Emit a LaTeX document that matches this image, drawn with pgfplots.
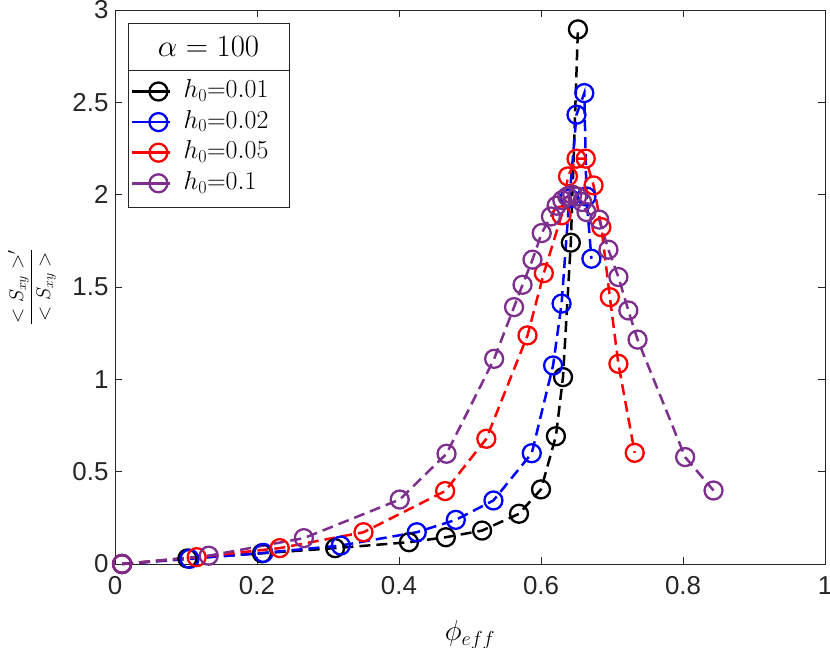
\RequirePackage{fix-cm}
\documentclass[border=0pt]{standalone}
\usepackage{fontspec}
\setmainfont{Liberation Sans}
\usepackage{pgfplots}
\pgfplotsset{compat=1.18}
\definecolor{mpurple}{rgb}{0.494,0.184,0.556}
\definecolor{axgray}{rgb}{0.15,0.15,0.15}
\begin{document}
\begin{tikzpicture}
\path[use as bounding box] (-115bp,-84bp) rectangle (715bp,564bp);
\begin{axis}[
  at={(0,0)}, anchor=south west,
  width=710bp, height=554bp, scale only axis,
  xmin=0, xmax=1, ymin=0, ymax=3,
  xtick={0,0.2,0.4,0.6,0.8,1},
  ytick={0,0.5,1,1.5,2,2.5,3},
  xticklabels={0,0.2,0.4,0.6,0.8,1},
  yticklabels={0,0.5,1,1.5,2,2.5,3},
  tick align=inside,
  major tick length=7bp,
  axis line style={axgray, line width=0.8bp},
  every tick/.style={axgray, line width=0.8bp},
  tick label style={font=\fontsize{26}{31}\selectfont, text=axgray},
  xticklabel style={yshift=-9bp},
  yticklabel style={xshift=-3bp},
  clip=false,
  xlabel={$\phi_{eff}$},
  xlabel style={at={(axis description cs:0.5,-0.128)}, anchor=center, font=\fontsize{29}{35}\selectfont},
  ylabel={$\displaystyle\frac{<S_{xy}>^{\prime}}{<S_{xy}>}$},
  ylabel style={at={(axis description cs:-0.1169,0.5)}, anchor=center, rotate=0, font=\fontsize{20}{24}\selectfont},
  every axis plot/.append style={dash pattern=on 11bp off 6bp, line width=2.5bp, mark=o, mark size=9bp, mark options={solid, line width=2.3bp}},
  legend style={at={(axis description cs:0.0183,0.8917)}, anchor=north west, draw=none, fill=none,
    font=\fontsize{26}{31}\selectfont, cells={anchor=west}, inner xsep=3bp, inner ysep=6bp,
    column sep=10bp,
    nodes={text height=17bp, text depth=5bp, inner ysep=4.3bp}},
  legend image code/.code={%
    \draw[mark repeat=2, mark phase=2, solid, #1] plot coordinates {(0bp,0bp) (26bp,0bp) (38bp,0bp)};},
]
\draw[axgray, line width=0.8bp, fill=white] (axis cs:0.0183,1.931) rectangle (axis cs:0.2451,2.928);
\draw[axgray, line width=0.8bp] (axis cs:0.0183,2.673) -- (axis cs:0.2451,2.673);
\node[font=\fontsize{31}{37}\selectfont] at (axis cs:0.1317,2.8005) {$\alpha = 100$};

\addplot[black] coordinates {
(0.01,0) (0.102,0.03) (0.207,0.058) (0.310,0.086) (0.414,0.118) (0.466,0.145)
(0.517,0.181) (0.569,0.272) (0.600,0.404) (0.621,0.692) (0.631,1.012)
(0.642,1.74) (0.652,2.895)};
\addlegendentry{$h_0{=}0.01$}

\addplot[blue] coordinates {
(0.01,0) (0.105,0.028) (0.209,0.06) (0.318,0.100) (0.425,0.172) (0.480,0.239)
(0.533,0.344) (0.587,0.60) (0.617,1.075) (0.629,1.41) (0.640,1.98)
(0.650,2.433) (0.661,2.55) (0.664,1.99) (0.671,1.653)};
\addlegendentry{$h_0{=}0.02$}

\addplot[red] coordinates {
(0.01,0) (0.115,0.037) (0.232,0.086) (0.350,0.172) (0.465,0.395) (0.523,0.678)
(0.581,1.238) (0.604,1.575) (0.629,1.888) (0.638,2.099) (0.650,2.195)
(0.663,2.195) (0.674,2.05) (0.685,1.824) (0.697,1.445) (0.709,1.084) (0.732,0.602)};
\addlegendentry{$h_0{=}0.05$}

\addplot[mpurple] coordinates {
(0.01,0) (0.132,0.045) (0.266,0.14) (0.401,0.349) (0.467,0.597) (0.534,1.111)
(0.562,1.391) (0.574,1.512) (0.588,1.648) (0.601,1.792) (0.614,1.882)
(0.622,1.94) (0.630,1.97) (0.637,1.99) (0.644,2.0) (0.651,1.99) (0.658,1.96)
(0.664,1.906) (0.682,1.865) (0.695,1.702) (0.709,1.554) (0.723,1.373) (0.736,1.215)
(0.803,0.579) (0.843,0.398)};
\addlegendentry{$h_0{=}0.1$}
\end{axis}
\end{tikzpicture}
\end{document}
